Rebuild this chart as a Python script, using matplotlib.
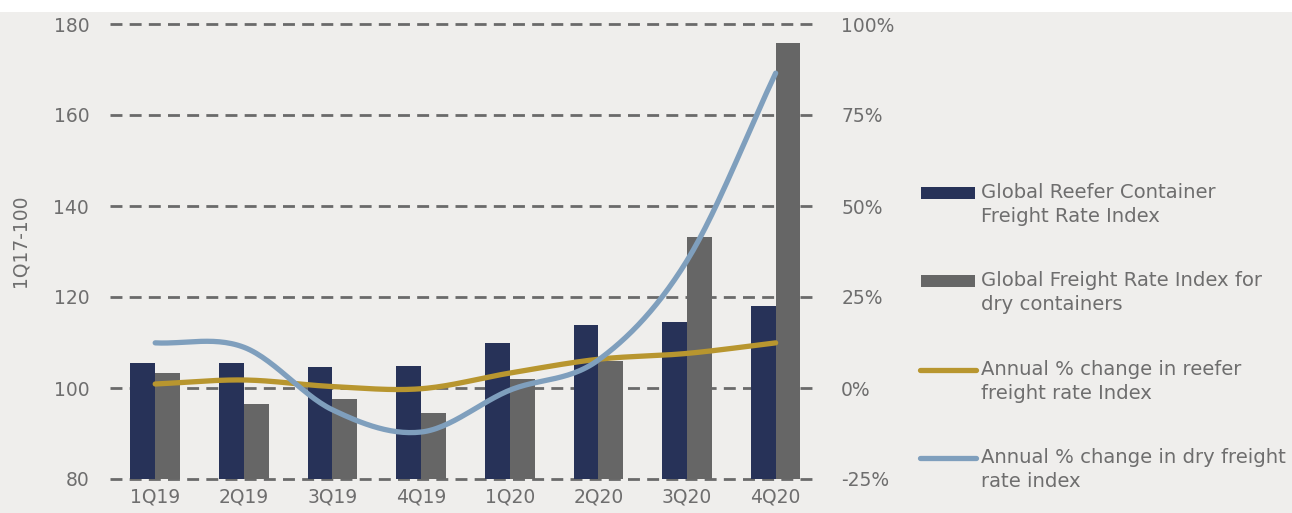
import numpy as np
import matplotlib.pyplot as plt
from matplotlib.patches import Rectangle
from matplotlib.lines import Line2D

quarters = ['1Q19', '2Q19', '3Q19', '4Q19', '1Q20', '2Q20', '3Q20', '4Q20']
reefer_index = [105.5, 105.5, 104.7, 104.8, 109.9, 113.8, 114.5, 118.0]
dry_index = [103.3, 96.5, 97.6, 94.5, 102.0, 106.0, 133.2, 175.8]
reefer_change = [1.1, 2.2, 0.4, -0.2, 4.1, 7.9, 9.5, 12.4]
dry_change = [12.4, 11.2, -6.0, -12.1, -0.6, 7.7, 35.0, 86.5]

legend_labels = ['Global Reefer Container\nFreight Rate Index',
                 'Global Freight Rate Index for\ndry containers',
                 'Annual % change in reefer\nfreight rate Index',
                 'Annual % change in dry freight\nrate index']

navy = '#273258'
grey = '#666666'
gold = '#b8962f'
blue = '#7f9fbd'
txt = '#6e6e6e'
bg = '#efeeec'

W, H = 1292, 513


def smooth(x, y, n=30):
    # cubic hermite curve through the points (catmull-rom style tangents)
    x = np.asarray(x, float)
    y = np.asarray(y, float)
    m = np.gradient(y, x)
    xs, ys = [], []
    t = np.linspace(0, 1, n)
    for i in range(len(x) - 1):
        h = x[i + 1] - x[i]
        h00 = 2 * t**3 - 3 * t**2 + 1
        h10 = t**3 - 2 * t**2 + t
        h01 = -2 * t**3 + 3 * t**2
        h11 = t**3 - t**2
        xs.append(x[i] + t * h)
        ys.append(h00 * y[i] + h10 * h * m[i] + h01 * y[i + 1] + h11 * h * m[i + 1])
    return np.concatenate(xs), np.concatenate(ys)


def fx(px):
    return px / W


def fy(py):
    return 1 - py / H


fig = plt.figure(figsize=(W / 100, H / 100), dpi=100, facecolor=bg)
fig.patches.append(Rectangle((0, fy(12)), 1, 12 / H, transform=fig.transFigure,
                             facecolor='white', edgecolor='none', zorder=0))

ax = fig.add_axes([fx(110), fy(479), fx(812 - 110), (479 - 24) / H])
ax.set_facecolor('none')
x = np.arange(len(quarters))
bw = 0.28

for v in [80, 100, 120, 140, 160, 180]:
    ax.axhline(v, color='#6a6a6a', linewidth=2, linestyle=(0, (4.3, 2.6)),
               zorder=0.5, clip_on=False)

ax.bar(x - bw / 2, reefer_index, width=bw, color=navy, zorder=2)
ax.bar(x + bw / 2, dry_index, width=bw, color=grey, zorder=2)

ax.set_xlim(-0.51, 7.41)
ax.set_ylim(80, 180)
ax.set_yticks([80, 100, 120, 140, 160, 180])
ax.set_xticks(x)
ax.set_xticklabels(quarters)
ax.tick_params(axis='y', length=0, pad=15, labelsize=13.5, labelcolor=txt)
ax.tick_params(axis='x', length=0, pad=6, labelsize=13.5, labelcolor=txt)
for s in ax.spines.values():
    s.set_visible(False)

ax2 = ax.twinx()
ax2.set_ylim(-25, 100)
ax2.set_yticks([-25, 0, 25, 50, 75, 100])
ax2.set_yticklabels([f'{v}%' for v in [-25, 0, 25, 50, 75, 100]])
ax2.tick_params(axis='y', length=0, pad=21, labelsize=13.5, labelcolor=txt)
for s in ax2.spines.values():
    s.set_visible(False)

sx, sy = smooth(x, reefer_change)
ax2.plot(sx, sy, color=gold, linewidth=3.8, solid_capstyle='round', zorder=3)
sx, sy = smooth(x, dry_change)
ax2.plot(sx, sy, color=blue, linewidth=3.8, solid_capstyle='round', zorder=4)

fig.text(fx(20), fy(241), '1Q17-100', rotation=90, ha='center', va='center',
         fontsize=13.5, color=txt)

# legend, drawn by hand so the key sits on the first text line
ys = [193, 281, 370, 458]
for i, (yy, lab) in enumerate(zip(ys, legend_labels)):
    if i < 2:
        fig.patches.append(Rectangle((fx(921), fy(yy + 6)), fx(975 - 921), 12 / H,
                                     transform=fig.transFigure,
                                     facecolor=[navy, grey][i], edgecolor='none'))
    else:
        fig.add_artist(Line2D([fx(920), fx(976)], [fy(yy), fy(yy)],
                              transform=fig.transFigure, color=[gold, blue][i - 2],
                              linewidth=3.8, solid_capstyle='round'))
    fig.text(fx(981), fy(yy - 10), lab, ha='left', va='top', fontsize=14.1,
             color=txt, linespacing=1.32)

fig.savefig('out.png', dpi=100, facecolor=bg)
